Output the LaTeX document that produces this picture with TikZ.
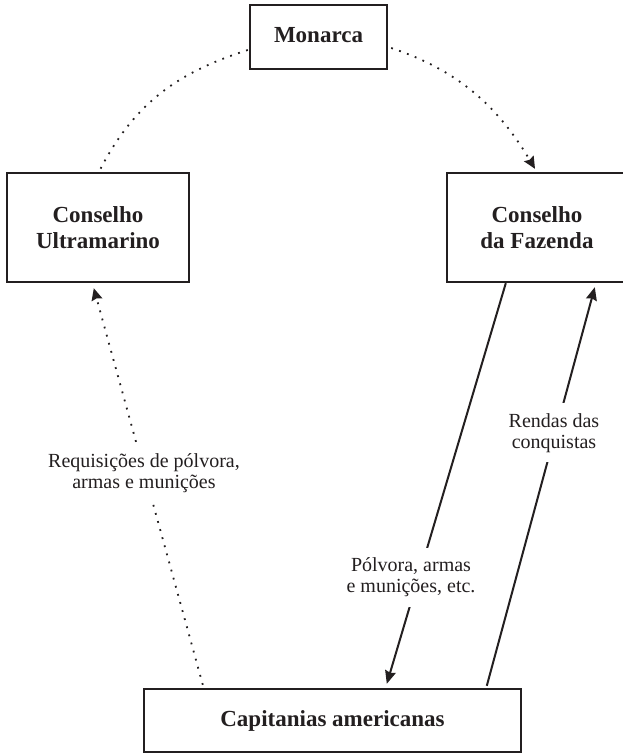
\documentclass[tikz,border=0pt]{standalone}
\usepackage{fontspec}
\setmainfont{Liberation Serif}
\usetikzlibrary{arrows.meta,calc}
\definecolor{ink}{RGB}{35,31,32}
\begin{document}
\begin{tikzpicture}[x=1pt,y=-1pt,
  box/.style={draw=ink,line width=2.4pt,text=ink,font=\fontsize{23}{26}\selectfont\bfseries,align=center,inner sep=0pt},
  lab/.style={fill=white,text=ink,font=\fontsize{20}{21}\selectfont,align=center,inner xsep=4pt,inner ysep=10pt},
  solidarrow/.style={draw=ink,line width=2pt,-{Stealth[length=13pt,width=11pt,inset=1.5pt]}},
  dotline/.style={draw=ink,line width=1.8pt,dash pattern=on 1.8pt off 6.6pt},
  dotarrow/.style={dotline,-{Stealth[length=12pt,width=11pt,inset=1.5pt]}}]
\fill[white] (0,0) rectangle (623,753);
\useasboundingbox (0,0) rectangle (623,753);
\node[box,minimum width=137pt,minimum height=64pt,text depth=5pt] (mon) at (318.5,37) {Monarca};
\node[box,minimum width=182pt,minimum height=109pt] (ult) at (98,227.5) {Conselho\\Ultramarino};
\node[box,minimum width=180pt,minimum height=109pt] (faz) at (537,227.5) {Conselho\\da Fazenda};
\node[box,minimum width=377pt,minimum height=63pt] (cap) at (332.5,720.5) {Capitanias americanas};
\coordinate (m1) at ($(mon.west)+(-1,13)$);
\coordinate (m2) at ($(mon.east)+(3,11)$);
\coordinate (u1) at ($(ult.north)+(2,-2)$);
\coordinate (u2) at ($(ult.south west)+(88,5)$);
\coordinate (f1) at ($(faz.north)+(-2,-3)$);
\coordinate (f2) at ($(faz.south west)+(60,0)$);
\coordinate (f3) at ($(faz.south west)+(149,4)$);
\coordinate (c1) at ($(cap.north west)+(244,-4)$);
\coordinate (c2) at ($(cap.north west)+(344,-2)$);
\coordinate (c3) at ($(cap.north west)+(60,-3)$);
\draw[dotline] (m1) .. controls (179,72) and (135,102) .. (u1);
\draw[dotarrow] (m2) .. controls (457,70) and (497,105) .. (f1);
\draw[dotarrow] (c3) -- (u2);
\draw[solidarrow] (f2) -- (c1);
\draw[solidarrow] (c2) -- (f3);
\node[lab] (req) at (144,473.4) {Requisições de pólvora,\\armas e munições};
\node[lab] (pol) at (411,577.4) {Pólvora, armas\\e munições, etc.};
\node[lab] (ren) at (554,432.8) {Rendas das\\conquistas};
\end{tikzpicture}
\end{document}
